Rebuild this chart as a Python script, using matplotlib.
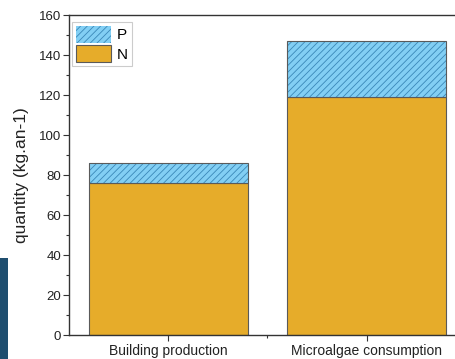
import matplotlib
matplotlib.use("Agg")
import matplotlib.pyplot as plt
from matplotlib.patches import Rectangle, Patch
from matplotlib.ticker import MultipleLocator, FixedLocator

categories = ["Building production", "Microalgae consumption"]
n_values = [76, 119]
p_values = [10, 28]

plt.rcParams["font.family"] = ["Liberation Sans", "DejaVu Sans"]
plt.rcParams["hatch.linewidth"] = 0.6

orange = "#E6AC2A"
blue = "#82CFF4"
hatch_col = "#3A88B8"
edge_col = "#5A5A5A"

fig = plt.figure(figsize=(4.56, 3.59), dpi=100)
ax = fig.add_axes([69 / 456, 24 / 359, 397 / 456, 320 / 359])

x = [1, 2]
width = 0.8
ax.bar(x, n_values, width, color=orange, edgecolor=edge_col, linewidth=0.8, zorder=2)
ax.bar(x, p_values, width, bottom=n_values, color=blue, edgecolor=hatch_col,
       hatch="/////", linewidth=0, zorder=2)
ax.bar(x, p_values, width, bottom=n_values, fill=False, edgecolor=edge_col,
       linewidth=0.8, zorder=3)

ax.set_xlim(0.5, 2.5)
ax.set_ylim(0, 160)
ax.set_xticks(x)
ax.set_xticklabels(categories, fontsize=10)
ax.xaxis.set_minor_locator(FixedLocator([1.5]))
ax.yaxis.set_major_locator(MultipleLocator(20))
ax.yaxis.set_minor_locator(MultipleLocator(10))
ax.tick_params(axis="both", which="major", direction="out", length=4, width=0.8,
               colors="#333333", labelcolor="#222222")
ax.tick_params(axis="y", which="major", labelsize=9.5, pad=1.5)
ax.tick_params(axis="x", which="major", pad=2.5)
ax.tick_params(axis="both", which="minor", direction="out", length=2.5, width=0.8,
               colors="#333333")
for s in ax.spines.values():
    s.set_linewidth(1.0)
    s.set_color("#333333")
ax.set_ylabel("quantity (kg.an-1)", fontsize=12.5, color="#222222")
ax.yaxis.set_label_coords(-0.1, 0.5)

handles = [
    Patch(facecolor=blue, edgecolor=hatch_col, hatch="/////", linewidth=0),
    Patch(facecolor=orange, edgecolor=edge_col, linewidth=0.8),
]
leg = ax.legend(handles, ["P", "N"], loc="upper left",
                bbox_to_anchor=(3 / 397, 1 - 7 / 320), borderaxespad=0,
                fontsize=11, handlelength=2.3, handleheight=1.35,
                handletextpad=0.4, labelspacing=0.15, borderpad=0.25,
                fancybox=False, edgecolor="#cccccc", framealpha=1)
leg.get_frame().set_linewidth(0.8)

fig.patches.append(Rectangle((0, 0), 8 / 456, 101 / 359, transform=fig.transFigure,
                             facecolor="#1F4E6F", edgecolor="none", zorder=0))

fig.savefig("out.png", dpi=100)
